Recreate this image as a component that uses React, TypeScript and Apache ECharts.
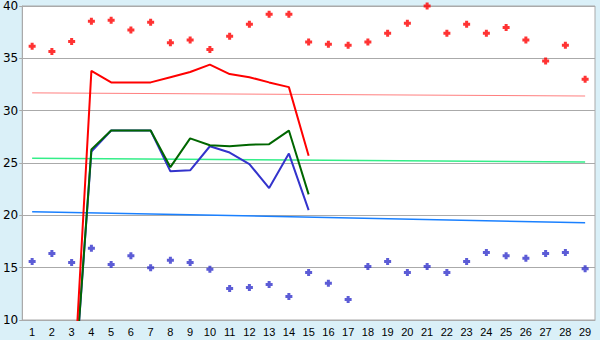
import React, { useEffect, useRef } from "react";
import * as echarts from "echarts";

const categories = Array.from({ length: 29 }, (_, i) => String(i + 1));

const redLine = [null, null, 0, 33.8, 32.7, 32.7, 32.7, 33.2, 33.7, 34.4, 33.5, 33.2, 32.7, 32.25, 25.7, null, null, null, null, null, null, null, null, null, null, null, null, null, null];
const greenLine = [null, null, 0, 26.3, 28.1, 28.1, 28.1, 24.6, 27.35, 26.7, 26.6, 26.75, 26.8, 28.1, 22.0, null, null, null, null, null, null, null, null, null, null, null, null, null, null];
const blueLine = [null, null, 0, 26.1, 28.1, 28.1, 28.1, 24.2, 24.3, 26.6, 26.0, 24.9, 22.6, 25.9, 20.5, null, null, null, null, null, null, null, null, null, null, null, null, null, null];

const highPoints = [36.15, 35.65, 36.6, 38.55, 38.65, 37.7, 38.45, 36.5, 36.75, 35.85, 37.1, 38.25, 39.2, 39.2, 36.55, 36.35, 36.25, 36.55, 37.4, 38.35, 40.0, 37.4, 38.25, 37.4, 37.95, 36.75, 34.75, 36.25, 33.0];
const lowPoints = [15.6, 16.35, 15.5, 16.85, 15.3, 16.15, 15.0, 15.7, 15.5, 14.85, 13.0, 13.1, 13.4, 12.25, 14.55, 13.5, 11.95, 15.1, 15.6, 14.55, 15.1, 14.55, 15.6, 16.45, 16.15, 15.9, 16.35, 16.45, 14.9];

const redTrend = [["1", 31.7], ["29", 31.4]];
const greenTrend = [["1", 25.45], ["29", 25.1]];
const blueTrend = [["1", 20.35], ["29", 19.3]];

const yTicks = { min: 10, max: 40, interval: 5 };

const plusSymbol = "path://M2,0L5,0L5,2L7,2L7,5L5,5L5,7L2,7L2,5L0,5L0,2L2,2Z";

export default function App() {
  const ref = useRef<HTMLDivElement>(null);
  useEffect(() => {
    if (!ref.current) return;
    const chart = echarts.init(ref.current, undefined, { renderer: "svg" });
    const trend = (data: any, color: string, width: number) => ({
      type: "line",
      data,
      symbol: "none",
      silent: true,
      lineStyle: { color, width },
      z: 1,
    });
    const main = (data: any, color: string, z: number) => ({
      type: "line",
      data,
      symbol: "none",
      connectNulls: false,
      lineStyle: { color, width: 2 },
      z,
    });
    chart.setOption({
      animation: false,
      backgroundColor: "#daf0f8",
      textStyle: { fontFamily: "DejaVu Sans" },
      grid: {
        left: 20,
        top: 5,
        width: 575,
        height: 315,
        show: true,
        backgroundColor: "#ffffff",
        borderColor: "#aaaaaa",
        borderWidth: 1,
      },
      xAxis: {
        type: "category",
        data: categories,
        boundaryGap: true,
        axisLine: { lineStyle: { color: "#aaaaaa", width: 1 } },
        axisTick: { alignWithLabel: true, length: 4, lineStyle: { color: "#333333" } },
        axisLabel: { color: "#000", fontSize: 11, fontFamily: "Liberation Sans", margin: 6, interval: 0 },
        splitLine: { show: false },
      },
      yAxis: {
        type: "value",
        min: yTicks.min,
        max: yTicks.max,
        interval: yTicks.interval,
        axisLine: { show: true, lineStyle: { color: "#aaaaaa" } },
        axisTick: { show: true, length: 3, lineStyle: { color: "#aaaaaa" } },
        axisLabel: { color: "#000", fontSize: 12, margin: 4 },
        splitLine: { lineStyle: { color: "#aaaaaa", width: 1 } },
      },
      series: [
        trend(redTrend, "#ff7f7f", 1),
        trend(greenTrend, "#33ee88", 1.5),
        trend(blueTrend, "#1a80ff", 1.5),
        main(blueLine, "#3333cc", 3),
        main(greenLine, "#006600", 4),
        main(redLine, "#ff0000", 5),
        {
          type: "scatter",
          data: highPoints,
          symbol: plusSymbol,
          symbolSize: 7,
          itemStyle: { color: "#ff0000" },
          z: 6,
        },
        {
          type: "scatter",
          data: lowPoints,
          symbol: plusSymbol,
          symbolSize: 7,
          itemStyle: { color: "#3333cc" },
          z: 6,
        },
      ],
    });
    return () => chart.dispose();
  }, []);
  return (
    <div
      ref={ref}
      style={{ position: "fixed", left: 0, top: 0, width: 600, height: 340 }}
    />
  );
}
